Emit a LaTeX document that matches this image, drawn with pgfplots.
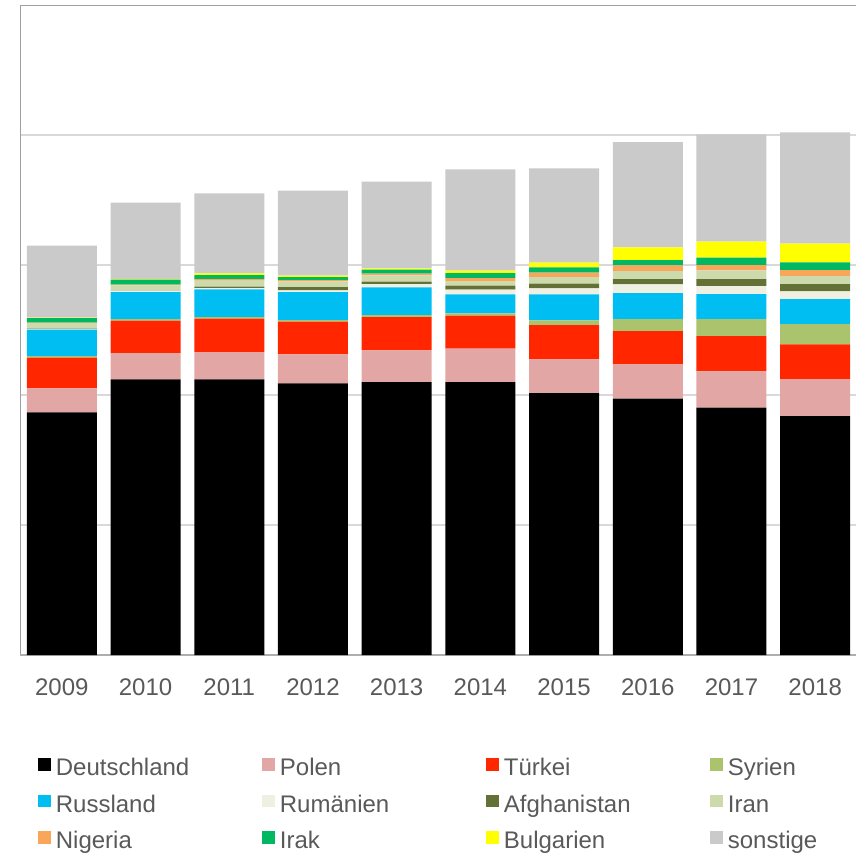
\documentclass[border=0pt]{standalone}
\usepackage{fontspec}
\setmainfont{Liberation Sans}
\usepackage{pgfplots}
\pgfplotsset{compat=1.18}
\definecolor{cDe}{HTML}{000000}
\definecolor{cPl}{HTML}{E2A6A4}
\definecolor{cTr}{HTML}{FF2600}
\definecolor{cSy}{HTML}{AAC36C}
\definecolor{cRu}{HTML}{00BDF2}
\definecolor{cRo}{HTML}{EFF0E2}
\definecolor{cAf}{HTML}{637136}
\definecolor{cIr}{HTML}{CDDAAB}
\definecolor{cNg}{HTML}{F9A65A}
\definecolor{cIq}{HTML}{00B862}
\definecolor{cBg}{HTML}{FFFF00}
\definecolor{cSo}{HTML}{CACACA}
\definecolor{txt}{HTML}{595959}
\definecolor{gridc}{HTML}{D9D9D9}
\definecolor{framec}{HTML}{A0A0A0}
\begin{document}
\begin{tikzpicture}
\begin{axis}[
  name=ax,
  scale only axis,
  width=418.5pt, height=325pt,
  ybar stacked, bar width=35pt,
  xmin=-0.5, xmax=9.5, ymin=0, ymax=650,
  xtick={0,...,9},
  xticklabels={2009,2010,2011,2012,2013,2014,2015,2016,2017,2018},
  ytick={130,260,390,520}, yticklabels={},
  xmajorgrids=false,
  ymajorgrids=true, grid style={draw=gridc, line width=0.75pt},
  major tick length=0pt,
  axis line style={draw=none},
  /pgf/number format/assume math mode=true,
  tick label style={font=\fontsize{12}{14}\selectfont, text=txt},
  xticklabel style={yshift=-8.5pt},
  area legend,
  legend columns=4,
  legend cell align=left,
  legend image code/.code={\fill[#1] (0pt,-0.65pt) rectangle (6.25pt,5.6pt);},
  legend style={draw=none, fill=none, inner sep=0pt,
    at={(0,0)}, anchor=north west, xshift=9pt, yshift=-51.5pt,
    font=\fontsize{12}{14}\selectfont, text=txt,
    row sep=7.05pt,
    nodes={text width=103.25pt, inner xsep=0pt, inner ysep=0pt, text height=8.6pt, text depth=2.6pt, align=left},
    /tikz/every odd column/.append style={column sep=2.5pt},
    /tikz/every even column/.append style={column sep=0pt}},
]
\addplot[fill=cDe, draw=none] coordinates {(0,242.7) (1,275.7) (2,275.7) (3,271.7) (4,273) (5,273) (6,262) (7,256.3) (8,247.3) (9,239)};
\addplot[fill=cPl, draw=none] coordinates {(0,24) (1,26.3) (2,27.3) (3,29) (4,31.7) (5,33.3) (6,33.7) (7,34.7) (8,36.4) (9,37)};
\addplot[fill=cTr, draw=none] coordinates {(0,30.8) (1,32.3) (2,33.3) (3,32.6) (4,33.3) (5,33) (6,34.3) (7,33) (8,35.3) (9,34.7)};
\addplot[fill=cSy, draw=none] coordinates {(0,1.5) (1,1.7) (2,1.7) (3,1.7) (4,2) (5,2.4) (6,4.7) (7,12) (8,17) (9,20.3)};
\addplot[fill=cRu, draw=none] coordinates {(0,26.5) (1,27) (2,27.7) (3,28) (4,27.7) (5,19) (6,26) (7,26) (8,25) (9,25)};
\addplot[fill=cRo, draw=none] coordinates {(0,1) (1,1.3) (2,1.3) (3,1.7) (4,3.3) (5,4.6) (6,6) (7,8.7) (8,8) (9,7.7)};
\addplot[fill=cAf, draw=none] coordinates {(0,0.3) (1,0.4) (2,1.3) (3,3.3) (4,2.3) (5,4) (6,4.6) (7,5.3) (8,7) (9,7.3)};
\addplot[fill=cIr, draw=none] coordinates {(0,5) (1,5) (2,6) (3,5.7) (4,6.4) (5,4.7) (6,6.7) (7,8) (8,8.7) (9,8)};
\addplot[fill=cNg, draw=none] coordinates {(0,0.5) (1,0.7) (2,1.7) (3,1.3) (4,1.7) (5,3) (6,4.3) (7,5.7) (8,5.3) (9,6)};
\addplot[fill=cIq, draw=none] coordinates {(0,4.5) (1,5) (2,4) (3,3) (4,4) (5,5) (6,5.4) (7,5.3) (8,7.3) (9,7.7)};
\addplot[fill=cBg, draw=none] coordinates {(0,0.7) (1,0.8) (2,1.7) (3,1.3) (4,1.3) (5,2.3) (6,4.6) (7,12.7) (8,16) (9,18.6)};
\addplot[fill=cSo, draw=none] coordinates {(0,71.8) (1,76.3) (2,80) (3,85) (4,86.6) (5,101.4) (6,94.4) (7,105.3) (8,107.4) (9,111.4)};
\legend{Deutschland,Polen,Türkei,Syrien,Russland,Rumänien,Afghanistan,Iran,Nigeria,Irak,Bulgarien,sonstige}
\draw[gridc!80!black, line width=0.75pt] (rel axis cs:0,0) -- (rel axis cs:1,0);
\draw[framec, line width=1pt] (rel axis cs:0,0) -- (rel axis cs:0,1) -- (rel axis cs:1,1);
\end{axis}
\pgfresetboundingbox
\path[use as bounding box] ([xshift=-10pt,yshift=-99pt]ax.south west) rectangle ([xshift=418pt,yshift=2.5pt]ax.north west);
\end{tikzpicture}
\end{document}
